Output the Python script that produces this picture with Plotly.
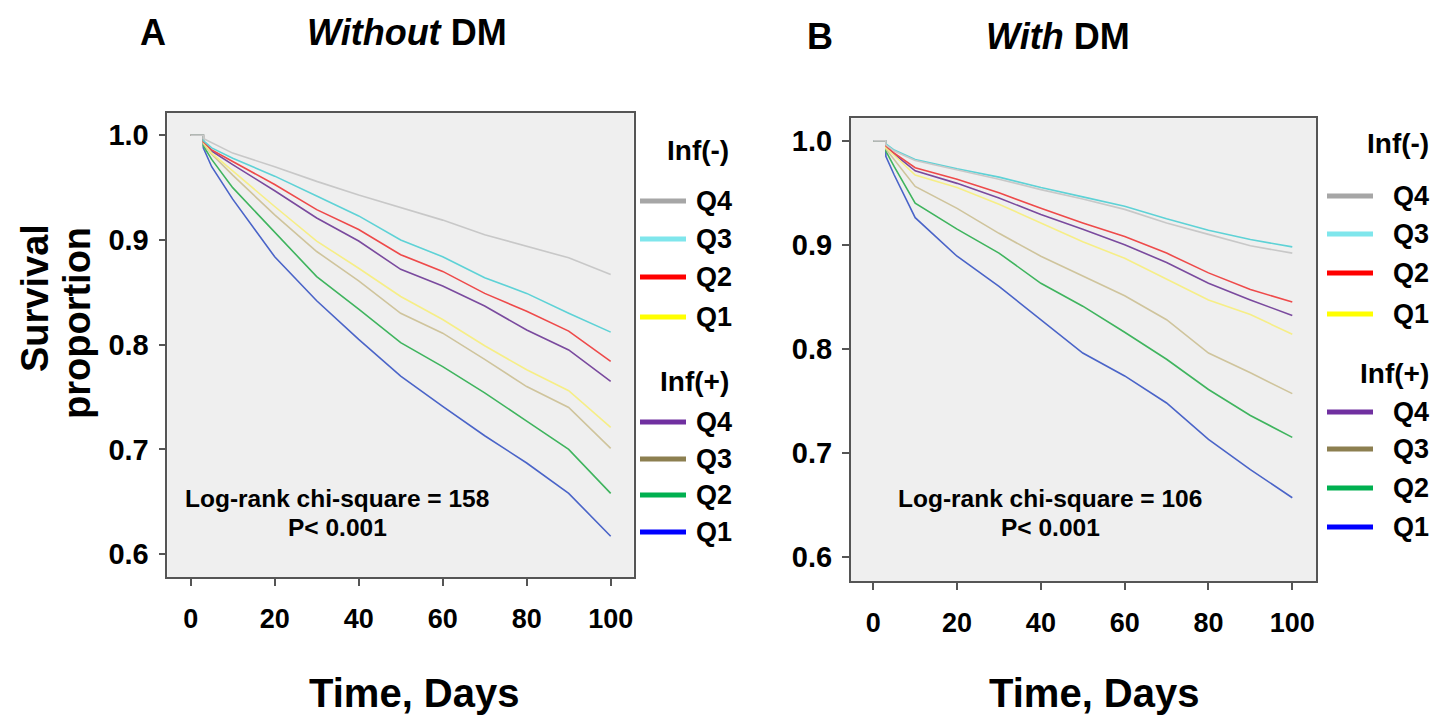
import plotly.graph_objects as go

# ---------------- data ----------------
time_days = [0, 3, 3, 5, 10, 20, 30, 40, 50, 60, 70, 80, 90, 100]
groups = ["Inf(-) Q4", "Inf(-) Q3", "Inf(-) Q2", "Inf(-) Q1",
          "Inf(+) Q4", "Inf(+) Q3", "Inf(+) Q2", "Inf(+) Q1"]

# Panel A: without DM
surv_a_neg_q4 = [1, 1, 0.997, 0.993, 0.983, 0.970, 0.956, 0.943, 0.931, 0.919, 0.905, 0.894, 0.883, 0.867]
surv_a_neg_q3 = [1, 1, 0.995, 0.988, 0.978, 0.961, 0.942, 0.923, 0.900, 0.884, 0.864, 0.849, 0.830, 0.812]
surv_a_neg_q2 = [1, 1, 0.994, 0.986, 0.975, 0.953, 0.929, 0.910, 0.886, 0.870, 0.849, 0.832, 0.813, 0.784]
surv_a_neg_q1 = [1, 1, 0.993, 0.983, 0.966, 0.932, 0.899, 0.873, 0.846, 0.824, 0.799, 0.776, 0.756, 0.721]
surv_a_pos_q4 = [1, 1, 0.993, 0.985, 0.972, 0.947, 0.921, 0.899, 0.872, 0.856, 0.837, 0.814, 0.795, 0.765]
surv_a_pos_q3 = [1, 1, 0.992, 0.982, 0.962, 0.924, 0.889, 0.861, 0.830, 0.811, 0.786, 0.760, 0.740, 0.701]
surv_a_pos_q2 = [1, 1, 0.990, 0.977, 0.950, 0.907, 0.865, 0.834, 0.802, 0.779, 0.754, 0.727, 0.700, 0.658]
surv_a_pos_q1 = [1, 1, 0.988, 0.970, 0.939, 0.884, 0.842, 0.805, 0.770, 0.741, 0.713, 0.687, 0.658, 0.617]

# Panel B: with DM
surv_b_neg_q4 = [1, 1, 0.996, 0.990, 0.981, 0.972, 0.963, 0.953, 0.944, 0.934, 0.921, 0.910, 0.899, 0.892]
surv_b_neg_q3 = [1, 1, 0.997, 0.991, 0.982, 0.973, 0.965, 0.955, 0.946, 0.937, 0.925, 0.914, 0.905, 0.898]
surv_b_neg_q2 = [1, 1, 0.995, 0.988, 0.974, 0.963, 0.950, 0.935, 0.921, 0.908, 0.892, 0.873, 0.857, 0.845]
surv_b_neg_q1 = [1, 1, 0.993, 0.986, 0.967, 0.955, 0.939, 0.921, 0.903, 0.887, 0.867, 0.847, 0.833, 0.814]
surv_b_pos_q4 = [1, 1, 0.994, 0.987, 0.971, 0.959, 0.945, 0.929, 0.915, 0.900, 0.883, 0.863, 0.847, 0.832]
surv_b_pos_q3 = [1, 1, 0.992, 0.982, 0.956, 0.935, 0.911, 0.889, 0.870, 0.851, 0.828, 0.796, 0.777, 0.757]
surv_b_pos_q2 = [1, 1, 0.990, 0.975, 0.940, 0.915, 0.892, 0.863, 0.841, 0.816, 0.790, 0.761, 0.736, 0.715]
surv_b_pos_q1 = [1, 1, 0.985, 0.967, 0.926, 0.889, 0.860, 0.828, 0.796, 0.774, 0.748, 0.713, 0.684, 0.657]

x_ticks = [0, 20, 40, 60, 80, 100]
y_ticks = [0.6, 0.7, 0.8, 0.9, 1.0]
stats_a = ["Log-rank chi-square = 158", "P< 0.001"]
stats_b = ["Log-rank chi-square = 106", "P< 0.001"]

# ---------------- styles ----------------
curve_colors = ["#c8c8c8", "#5ed2d6", "#ee4a4a", "#f6ee86",
                "#7a4a9e", "#cfc49c", "#3fb45e", "#4a64c8"]
legend_colors = ["#a6a6a6", "#7fe6ec", "#ff0000", "#ffff00",
                 "#7030a0", "#8c7f50", "#00b050", "#0000ff"]

W, H = 1448, 717
def px(x):
    return x / W
def py(y):
    return 1 - y / H

FONT = "Liberation Sans, Arial, sans-serif"
series_a = [surv_a_neg_q4, surv_a_neg_q3, surv_a_neg_q2, surv_a_neg_q1,
            surv_a_pos_q4, surv_a_pos_q3, surv_a_pos_q2, surv_a_pos_q1]
series_b = [surv_b_neg_q4, surv_b_neg_q3, surv_b_neg_q2, surv_b_neg_q1,
            surv_b_pos_q4, surv_b_pos_q3, surv_b_pos_q2, surv_b_pos_q1]

draw_order = [7, 6, 5, 4, 3, 2, 1, 0]
fig = go.Figure()
for i in draw_order:
    fig.add_trace(go.Scatter(x=time_days, y=series_a[i], mode="lines", name=groups[i],
                             line=dict(color=curve_colors[i], width=1.6),
                             xaxis="x", yaxis="y", showlegend=False))
for i in draw_order:
    fig.add_trace(go.Scatter(x=time_days, y=series_b[i], mode="lines", name=groups[i],
                             line=dict(color=curve_colors[i], width=1.6),
                             xaxis="x2", yaxis="y2", showlegend=False))

axis_common = dict(showline=True, mirror=True, linecolor="#555555", linewidth=1.5,
                   ticks="outside", ticklen=7, tickwidth=1.5, tickcolor="#555555",
                   showgrid=False, zeroline=False)

xa = dict(axis_common, tickvals=x_ticks, ticklabelstandoff=10,
          tickfont=dict(family=FONT, size=27, color="black", weight="bold"))
ya = dict(axis_common, tickvals=y_ticks, tickformat=".1f", ticklabelstandoff=4,
          tickfont=dict(family=FONT, size=29, color="black", weight="bold"))

fig.update_layout(
    width=W, height=H, margin=dict(l=0, r=0, t=0, b=0),
    paper_bgcolor="white", plot_bgcolor="#efefef",
    xaxis=dict(xa, domain=[px(167.3), px(633.7)], range=[-5.57, 105.48], anchor="y"),
    yaxis=dict(ya, domain=[py(577.3), py(112.7)], range=[0.5778, 1.0216], anchor="x"),
    xaxis2=dict(xa, domain=[px(850.7), px(1316)], range=[-5.39, 105.66], anchor="y2"),
    yaxis2=dict(ya, domain=[py(581), py(118.3)], range=[0.5770, 1.0215], anchor="x2"),
    showlegend=False,
)

ann = []
def text(x, y, s, size, xanchor="center", angle=0):
    ann.append(dict(x=px(x), y=py(y), xref="paper", yref="paper", text=s, showarrow=False,
                    xanchor=xanchor, yanchor="middle", textangle=angle,
                    font=dict(family=FONT, size=size, color="black")))

# titles
text(153, 33, "<b>A</b>", 36)
text(407, 33, "<b><i>Without</i> DM</b>", 36)
text(820, 36, "<b>B</b>", 36)
text(1058, 36, "<b><i>With</i> DM</b>", 36)
# axis titles
text(414, 693, "<b>Time, Days</b>", 40)
text(1094, 693, "<b>Time, Days</b>", 40)
text(35, 298, "<b>Survival</b>", 38, angle=-90)
text(77, 323, "<b>proportion</b>", 38, angle=-90)
# stats
text(337, 498, "<b>%s</b>" % stats_a[0], 24.5)
text(337, 527, "<b>%s</b>" % stats_a[1], 24.5)
text(1050, 498, "<b>%s</b>" % stats_b[0], 24.5)
text(1050, 527, "<b>%s</b>" % stats_b[1], 24.5)

# legends
shapes = []
def legend(x_line, x_text, x_title_right, y_neg_title, y_neg, y_pos_title, y_pos):
    text(x_title_right, y_neg_title, "<b>Inf(-)</b>", 28, xanchor="right")
    text(x_title_right, y_pos_title, "<b>Inf(+)</b>", 28, xanchor="right")
    ys = y_neg + y_pos
    labels = ["Q4", "Q3", "Q2", "Q1"] * 2
    for i in range(8):
        shapes.append(dict(type="line", xref="paper", yref="paper",
                           x0=px(x_line), x1=px(x_line + 46), y0=py(ys[i]), y1=py(ys[i]),
                           line=dict(color=legend_colors[i], width=5)))
        text(x_text, ys[i], "<b>%s</b>" % labels[i], 27, xanchor="left")

legend(640, 694, 731, 150, [201, 239, 277, 317], 381, [422, 459, 495, 532])
legend(1327, 1391, 1431, 143, [196, 234, 273, 314], 373, [412, 449, 488, 527])

fig.update_layout(annotations=ann, shapes=shapes)
fig.write_html("out.html", config={"displayModeBar": False},
               post_script="document.body.style.margin='0';document.body.style.overflow='hidden';")
